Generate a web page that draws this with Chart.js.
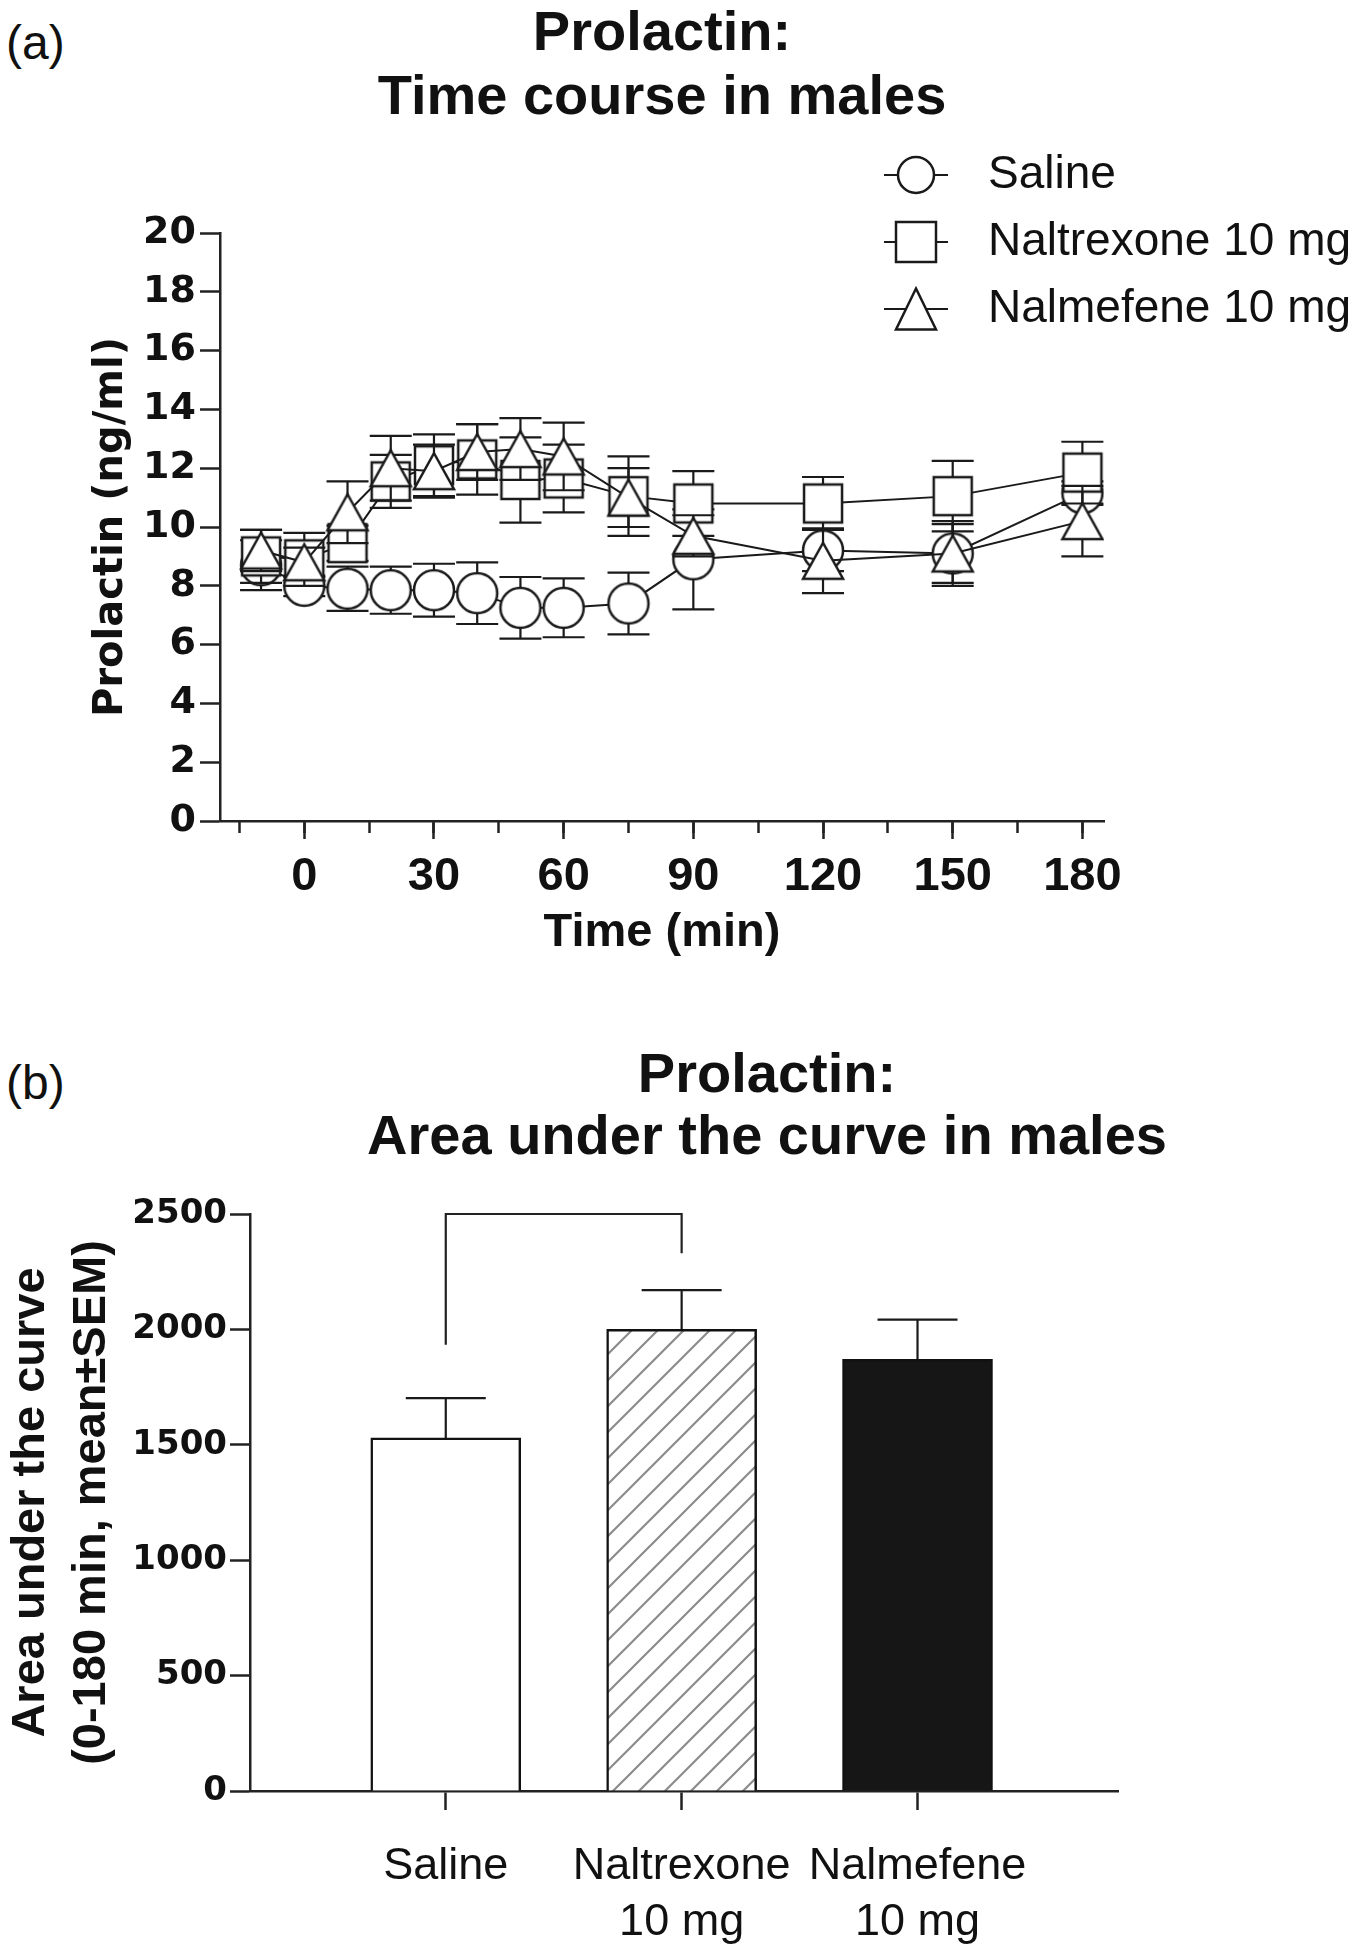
<!DOCTYPE html>
<html>
<head>
<meta charset="utf-8">
<script src="https://cdn.jsdelivr.net/npm/chart.js@4.4.1/dist/chart.umd.min.js"></script>
<style>
html,body{margin:0;padding:0;background:#fff;}
body{width:1363px;height:1950px;position:relative;overflow:hidden;font-family:'Liberation Sans',Arial,sans-serif;color:#111;}
.abs{position:absolute;}
.panel{font-size:48px;line-height:48px;left:6px;}
.title{font-weight:bold;font-size:56px;white-space:nowrap;text-align:center;transform:translateX(-50%);}
</style>
</head>
<body>
<div class="abs panel" style="top:19px">(a)</div>
<div class="abs title" style="left:662px;top:-1px;line-height:64px">Prolactin:<br>Time course in males</div>
<div class="abs" style="left:0;top:0;width:1363px;height:1000px"><canvas id="c1"></canvas></div>
<div class="abs" style="left:846px;top:131px;width:517px;height:260px"><canvas id="c1legend"></canvas></div>
<div class="abs panel" style="top:1059px">(b)</div>
<div class="abs title" style="left:767px;top:1042px;line-height:62px">Prolactin:<br>Area under the curve in males</div>
<div class="abs" style="left:0;top:1000px;width:1363px;height:950px"><canvas id="c2"></canvas></div>

<script>
// ---------- DATA ----------
const times = [-10, 0, 10, 20, 30, 40, 50, 60, 75, 90, 120, 150, 180];
const seriesNames = ['Saline', 'Naltrexone 10 mg', 'Nalmefene 10 mg'];
const salineMean = [8.7, 8.0, 7.9, 7.85, 7.85, 7.75, 7.25, 7.25, 7.4, 8.9, 9.2, 9.1, 11.15];
const salineSem = [0.85, 0.35, 0.75, 0.8, 0.9, 1.05, 1.05, 1.0, 1.05, 1.7, 0.7, 1.0, 0.4];
const naltrexoneMean = [9.0, 8.9, 9.45, 11.55, 12.1, 12.3, 11.6, 11.65, 11.05, 10.8, 10.8, 11.05, 11.85];
const naltrexoneSem = [0.9, 0.9, 0.6, 0.9, 1.05, 1.2, 1.45, 1.15, 1.35, 1.1, 0.9, 1.2, 1.05];
const nalmefeneMean = [9.2, 8.8, 10.5, 12.0, 11.9, 12.55, 12.65, 12.4, 11.0, 9.7, 8.85, 9.1, 10.2];
const nalmefeneSem = [0.7, 0.5, 1.05, 1.1, 0.9, 0.95, 1.05, 1.15, 1.0, 0.7, 1.1, 1.1, 1.2];
const yTicksA = [0, 20, 2];          // min, max, step
const xTicksA = [-19.5, 185, 30, 15]; // min, max, major step, minor step

const aucLabels = ['Saline', ['Naltrexone', '10 mg'], ['Nalmefene', '10 mg']];
const aucMean = [1530, 2000, 1870];
const aucSem = [172, 170, 172];
const yTicksB = [0, 2500, 500];
const bracketGroups = [0, 1];
const bracketValues = [1934, 2500, 2330]; // left end, top, right end

// ---------- STYLE HELPERS ----------
const INK = '#1a1a1a';
function glyph(kind, w, h, dims, withLine) {
  const c = document.createElement('canvas');
  c.width = w; c.height = h;
  const g = c.getContext('2d');
  const cx = w / 2, cy = h / 2;
  g.strokeStyle = INK;
  if (withLine) {
    g.lineWidth = 2; g.beginPath(); g.moveTo(0, cy); g.lineTo(w, cy); g.stroke();
  }
  g.lineWidth = 2.5; g.fillStyle = '#fff'; g.lineJoin = 'miter';
  g.beginPath();
  if (kind === 'circle') {
    g.arc(cx, cy, dims[0], 0, Math.PI * 2);
  } else if (kind === 'square') {
    g.rect(cx - dims[0] / 2, cy - dims[0] / 2, dims[0], dims[0]);
  } else {
    const hw = dims[0] / 2, hh = dims[1] / 2;
    g.moveTo(cx, cy - hh); g.lineTo(cx + hw, cy + hh); g.lineTo(cx - hw, cy + hh); g.closePath();
  }
  g.fill(); g.stroke();
  return c;
}
const plotGlyphs = [
  glyph('circle', 48, 48, [20]),
  glyph('square', 48, 48, [38]),
  glyph('triangle', 48, 48, [40, 36])
];
const legendGlyphs = [
  glyph('circle', 64, 48, [18]),
  glyph('square', 64, 48, [40]),
  glyph('triangle', 64, 48, [40, 41])
].map((c, i) => {
  const out = document.createElement('canvas');
  out.width = 64; out.height = 48;
  const g = out.getContext('2d');
  g.strokeStyle = INK; g.lineWidth = 2;
  g.beginPath(); g.moveTo(0, 24); g.lineTo(64, 24); g.stroke();
  g.drawImage(c, 0, 0);
  return out;
});
function hatch() {
  const s = 26;
  const c = document.createElement('canvas');
  c.width = s; c.height = s;
  const g = c.getContext('2d');
  g.fillStyle = '#fff'; g.fillRect(0, 0, s, s);
  g.strokeStyle = '#8c8c8c'; g.lineWidth = 2.2;
  g.beginPath();
  g.moveTo(0, s); g.lineTo(s, 0);
  g.moveTo(-s / 2, s / 2); g.lineTo(s / 2, -s / 2);
  g.moveTo(s / 2, s * 1.5); g.lineTo(s * 1.5, s / 2);
  g.stroke();
  return g.createPattern(c, 'repeat');
}

const errorBars = {
  id: 'errorBars',
  beforeDatasetDraw(chart, args) {
    const ds = chart.data.datasets[args.index];
    if (!ds.errors) return;
    const meta = args.meta;
    const ys = chart.scales[meta.yAxisID];
    const ctx = chart.ctx;
    ctx.save();
    ctx.strokeStyle = INK; ctx.lineWidth = ds.errLineWidth || 2.2;
    meta.data.forEach((el, i) => {
      const v = ds.data[i];
      const mean = typeof v === 'object' ? v.y : v;
      const e = ds.errors[i];
      const x = el.x;
      const yTop = ys.getPixelForValue(mean + e);
      const yBot = ys.getPixelForValue(ds.upperOnly ? mean : mean - e);
      const h = ds.capHalf;
      ctx.beginPath();
      ctx.moveTo(x, yBot); ctx.lineTo(x, yTop);
      ctx.moveTo(x - h, yTop); ctx.lineTo(x + h, yTop);
      if (!ds.upperOnly) { ctx.moveTo(x - h, yBot); ctx.lineTo(x + h, yBot); }
      ctx.stroke();
    });
    ctx.restore();
  }
};

const bracket = {
  id: 'bracket',
  afterDatasetsDraw(chart) {
    const xs = chart.scales.x, ys = chart.scales.y, ctx = chart.ctx;
    const x0 = xs.getPixelForValue(bracketGroups[0]);
    const x1 = xs.getPixelForValue(bracketGroups[1]);
    ctx.save();
    ctx.strokeStyle = '#222'; ctx.lineWidth = 2.2;
    ctx.beginPath();
    ctx.moveTo(x0, ys.getPixelForValue(bracketValues[0]));
    ctx.lineTo(x0, ys.getPixelForValue(bracketValues[1]));
    ctx.lineTo(x1, ys.getPixelForValue(bracketValues[1]));
    ctx.lineTo(x1, ys.getPixelForValue(bracketValues[2]));
    ctx.stroke();
    ctx.restore();
  }
};

const SANS = "'Liberation Sans', Arial, sans-serif";
const WIDE = "'DejaVu Sans', Verdana, sans-serif";
const axisGrid = (len) => ({ drawOnChartArea: false, drawTicks: true, tickLength: len, tickWidth: 2.5, tickColor: '#222' });
const axisBorder = { display: true, color: '#222', width: 2.5 };

// ---------- CHART (a) ----------
const meansA = [salineMean, naltrexoneMean, nalmefeneMean];
const semsA = [salineSem, naltrexoneSem, nalmefeneSem];
new Chart(document.getElementById('c1'), {
  type: 'line',
  data: {
    datasets: seriesNames.map((name, k) => ({
      label: name,
      data: times.map((t, i) => ({ x: t, y: meansA[k][i] })),
      errors: semsA[k],
      capHalf: 21,
      xAxisID: 'x', yAxisID: 'y',
      order: 3 - k,
      borderColor: INK, borderWidth: 2, tension: 0,
      pointStyle: plotGlyphs[k], pointRadius: 20, pointHoverRadius: 20,
      backgroundColor: '#fff'
    }))
  },
  options: {
    responsive: true, maintainAspectRatio: false, animation: false,
    layout: { padding: { left: 0, top: 233, right: 259, bottom: 0 } },
    plugins: { legend: { display: false }, tooltip: { enabled: false } },
    scales: {
      x: {
        type: 'linear', position: 'bottom', min: xTicksA[0], max: xTicksA[1],
        ticks: { stepSize: xTicksA[2], includeBounds: false, autoSkip: false, maxRotation: 0,
                 color: '#111', padding: 10, font: { family: SANS, size: 47, weight: 'bold' } },
        grid: axisGrid(18), border: axisBorder,
        title: { display: true, text: 'Time (min)', color: '#111',
                 font: { family: SANS, size: 47, weight: 'bold' }, padding: { top: 0, bottom: 39 } },
        afterFit: s => { s.height = 179; }
      },
      xMinor: {
        type: 'linear', axis: 'x', position: { y: 0 }, min: xTicksA[0], max: xTicksA[1],
        ticks: { stepSize: xTicksA[3], includeBounds: false, display: false, autoSkip: false },
        grid: axisGrid(12), border: { display: false }
      },
      y: {
        type: 'linear', min: yTicksA[0], max: yTicksA[1],
        ticks: { stepSize: yTicksA[2], color: '#111', padding: 4, font: { family: WIDE, size: 38, weight: 'bold' } },
        grid: axisGrid(20), border: axisBorder,
        title: { display: true, text: 'Prolactin (ng/ml)', color: '#111',
                 font: { family: WIDE, size: 40, weight: 'bold' }, padding: { top: 88, bottom: 0 } },
        afterFit: s => { s.width = 220; }
      }
    }
  },
  plugins: [errorBars]
});

// legend for (a)
new Chart(document.getElementById('c1legend'), {
  type: 'line',
  data: { datasets: seriesNames.map((name) => ({ label: name, data: [] })) },
  options: {
    responsive: true, maintainAspectRatio: false, animation: false,
    layout: { padding: 0 },
    scales: { x: { display: false }, y: { display: false } },
    plugins: {
      tooltip: { enabled: false },
      legend: {
        position: 'left', align: 'start', maxWidth: 2000,
        labels: {
          usePointStyle: true, pointStyleWidth: 98, boxHeight: 46, padding: 21,
          color: '#111', font: { family: SANS, size: 46 },
          generateLabels: chart => chart.data.datasets.map((d, i) => ({
            text: d.label, pointStyle: legendGlyphs[i], fillStyle: '#fff', strokeStyle: INK,
            lineWidth: 0, hidden: false, datasetIndex: i, fontColor: '#111'
          }))
        }
      }
    }
  }
});

// ---------- CHART (b) ----------
new Chart(document.getElementById('c2'), {
  type: 'bar',
  data: {
    datasets: [{
      label: 'AUC',
      data: aucMean.map((v, i) => ({ x: i, y: v })),
      errors: aucSem, upperOnly: true, capHalf: 40,
      backgroundColor: ['#ffffff', hatch(), '#161616'],
      borderColor: '#111', borderWidth: 2.5, borderSkipped: 'bottom',
      barThickness: 150
    }]
  },
  options: {
    responsive: true, maintainAspectRatio: false, animation: false,
    layout: { padding: { left: 0, top: 214, right: 245, bottom: 0 } },
    plugins: { legend: { display: false }, tooltip: { enabled: false } },
    scales: {
      x: {
        type: 'linear', min: -0.83, max: 2.85, offset: false,
        ticks: { stepSize: 1, includeBounds: false, autoSkip: false, maxRotation: 0,
                 callback: v => (aucLabels[v] !== undefined ? aucLabels[v] : ''),
                 color: '#111', padding: 28, font: { family: SANS, size: 45, lineHeight: 1.25 } },
        grid: Object.assign(axisGrid(19), { offset: false }), border: axisBorder,
        afterFit: s => { s.height = 159; }
      },
      y: {
        type: 'linear', min: yTicksB[0], max: yTicksB[1],
        ticks: { stepSize: yTicksB[2], callback: v => String(v), color: '#111', padding: 3,
                 font: { family: WIDE, size: 34, weight: 'bold' } },
        grid: axisGrid(20), border: axisBorder,
        title: { display: true, text: ['Area under the curve', '(0-180 min, mean\u00B1SEM)'], color: '#111',
                 font: { family: SANS, size: 47, weight: 'bold', lineHeight: 1.3 }, padding: { top: 0, bottom: 0 } },
        afterFit: s => { s.width = 250; }
      }
    }
  },
  plugins: [errorBars, bracket]
});
</script>
</body>
</html>
